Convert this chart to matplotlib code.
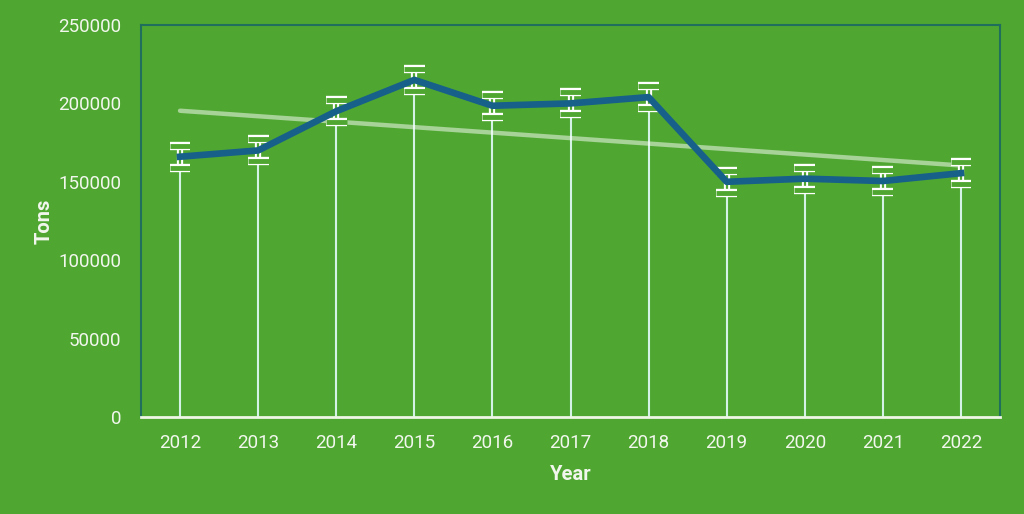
import numpy as np
import matplotlib
matplotlib.use("Agg")
import matplotlib.pyplot as plt
import matplotlib.patheffects as pe

years = ["2012", "2013", "2014", "2015", "2016", "2017", "2018", "2019", "2020", "2021", "2022"]
tons = [166000, 170000, 195000, 215000, 198500, 200000, 204000, 150000, 152000, 150500, 155500]
errors = [7000, 7000, 7000, 7000, 7000, 7000, 7000, 7000, 7000, 7000, 7000]
yticks = [0, 50000, 100000, 150000, 200000, 250000]

BG = "#4fa731"
LINE = "#17608a"
FRAME = "#1f6f5c"
TXT = "#f2f7ee"

plt.rcParams['font.family'] = ['Roboto', 'DejaVu Sans']

fig = plt.figure(figsize=(10.24, 5.14), dpi=100, facecolor=BG)
ax = fig.add_axes([141/1024, 1 - 417/514, (1000-141)/1024, (417-25)/514])
ax.set_facecolor(BG)

x = np.arange(len(years)) + 0.5
y = np.array(tons, dtype=float)

# drop lines
ax.vlines(x, 0, y, color="#d4f3e6", linewidth=1.5, zorder=1)

# trend line
coef = np.polyfit(x, y, 1)
ax.plot(x, np.polyval(coef, x), color="#ffffff", alpha=0.5, linewidth=3.2, zorder=2,
        solid_capstyle='round')

# error bars
eb = ax.errorbar(x, y, yerr=errors, fmt='none', ecolor=BG, elinewidth=1.6,
                 capsize=7.5, capthick=3.5, zorder=3)
for ln in eb[1]:
    ln.set_path_effects([pe.Stroke(linewidth=6, foreground='white'), pe.Normal()])
for col in eb[2]:
    col.set_path_effects([pe.Stroke(linewidth=4.5, foreground='white'), pe.Normal()])

# main line
ax.plot(x, y, color=LINE, linewidth=4.8, zorder=4, solid_joinstyle='round')

ax.set_xlim(0, len(years))
ax.set_ylim(0, 250000)
ax.set_xticks(x)
ax.set_xticklabels(years)
ax.set_yticks(yticks)
ax.set_yticklabels([str(v) for v in yticks])
ax.tick_params(axis='both', length=0, colors=TXT, labelsize=13.5)
ax.tick_params(axis='x', pad=12)
ax.tick_params(axis='y', pad=14)

for s in ['left', 'top', 'right']:
    ax.spines[s].set_color(FRAME)
    ax.spines[s].set_linewidth(1.5)
ax.spines['bottom'].set_color("#eef6e6")
ax.spines['bottom'].set_linewidth(2)

ax.set_xlabel("Year", color=TXT, fontsize=14.5, fontweight='bold')
ax.set_ylabel("Tons", color=TXT, fontsize=14.5, fontweight='bold')
ax.yaxis.set_label_coords(-0.102, 0.5)
ax.xaxis.set_label_coords(0.5, -0.123)

fig.savefig("out.png", dpi=100, facecolor=BG)
